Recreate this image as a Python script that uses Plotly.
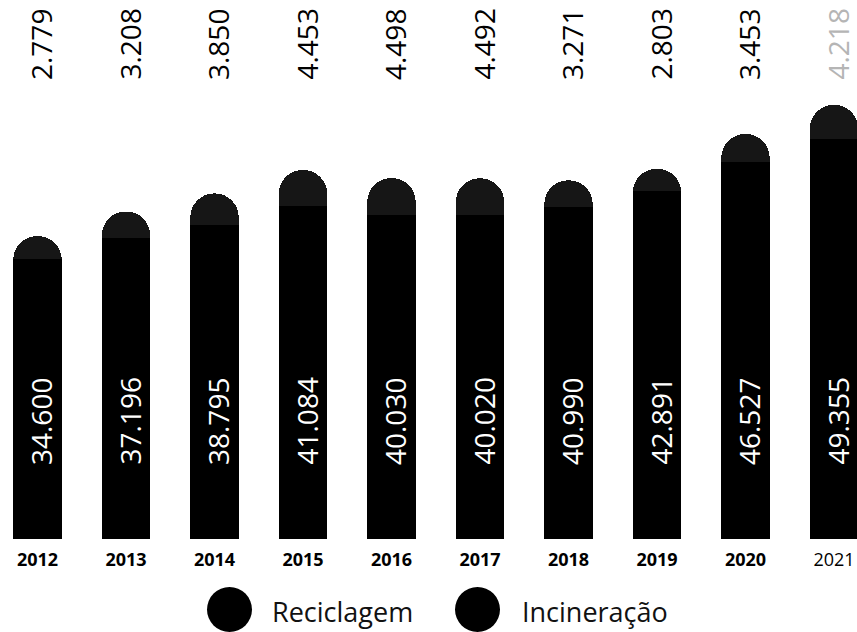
import plotly.graph_objects as go

# Annual tonnage, split by destination
years = ["2012", "2013", "2014", "2015", "2016", "2017", "2018", "2019", "2020", "2021"]
reciclagem = [34600, 37196, 38795, 41084, 40030, 40020, 40990, 42891, 46527, 49355]
incineracao = [2779, 3208, 3850, 4453, 4498, 4492, 3271, 2803, 3453, 4218]
bold_year = [True] * 9 + [False]

W, H = 857, 632
PLOT_BOTTOM = 539          # pixel row of the bar baseline
FONT = "Open Sans"


def py(p):
    """Convert a pixel row into paper y for the plot area (top margin 0)."""
    return (PLOT_BOTTOM - p) / PLOT_BOTTOM


def px(p):
    return p / W


def fmt(v):
    return f"{v:,}".replace(",", ".")


fig = go.Figure()
fig.add_bar(x=years, y=reciclagem, name="Reciclagem",
            marker=dict(color="#000000", line=dict(width=0)), hoverinfo="skip")
fig.add_bar(x=years, y=incineracao, name="Incineração",
            marker=dict(color="#161616", line=dict(width=0)), hoverinfo="skip")

annotations = []
for i, (yr, r, inc) in enumerate(zip(years, reciclagem, incineracao)):
    # category axes take the serial index of the category
    # value of the lower segment, written inside the bar
    annotations.append(dict(
        x=i, xref="x", y=py(467), yref="paper", xanchor="center", yanchor="bottom",
        text=fmt(r), textangle=-90, showarrow=False, xshift=3,
        font=dict(family=FONT, size=28, color="white")))
    # value of the upper segment, written above the bars
    annotations.append(dict(
        x=i, xref="x", y=py(82), yref="paper", xanchor="center", yanchor="bottom",
        text=fmt(inc), textangle=-90, showarrow=False, xshift=3,
        font=dict(family=FONT, size=28, color="#b5b5b5" if yr == "2021" else "black")))

# custom legend with large round keys
legend_items = [("Reciclagem", 207, 270), ("Incineração", 455, 520)]
shapes = []
for label, cx0, tx in legend_items:
    shapes.append(dict(type="circle", xref="paper", yref="paper",
                       x0=px(cx0), x1=px(cx0 + 45), y0=py(632), y1=py(587),
                       fillcolor="black", line=dict(width=0)))
    annotations.append(dict(
        x=px(tx), xref="paper", y=py(611), yref="paper", xanchor="left", yanchor="middle",
        text=label, showarrow=False, font=dict(family=FONT, size=27, color="#111111")))

ticktext = [f"<b>{y}</b>" if b else y for y, b in zip(years, bold_year)]

fig.update_layout(
    width=W, height=H,
    margin=dict(l=0, r=0, t=0, b=H - PLOT_BOTTOM, pad=0),
    paper_bgcolor="white", plot_bgcolor="white",
    barmode="stack", bargap=0.452, barcornerradius=24,
    showlegend=False,
    font=dict(family=FONT, color="black"),
    xaxis=dict(type="category", range=[-0.4237, 9.2599],
               tickvals=years, ticktext=ticktext,
               tickfont=dict(family=FONT, size=18, color="black"),
               showgrid=False, showline=False, zeroline=False, ticks="",
               ticklabelstandoff=8),
    yaxis=dict(range=[0, 66500], visible=False, showgrid=False, zeroline=False),
    annotations=annotations,
    shapes=shapes,
)

fig.write_html("out.html")
